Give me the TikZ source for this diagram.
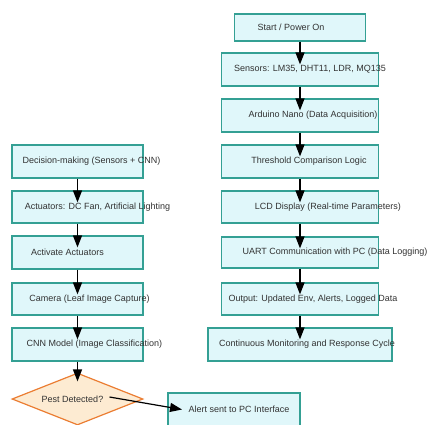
\documentclass[tikz,border=0pt]{standalone}
\usepackage{fontspec}
\setmainfont{Liberation Sans}
\usetikzlibrary{shapes.geometric,arrows.meta}

\definecolor{boxfill}{RGB}{224,247,250}
\definecolor{boxline}{RGB}{52,160,148}
\definecolor{decfill}{RGB}{253,235,210}
\definecolor{decline}{RGB}{235,125,50}
\definecolor{txt}{RGB}{50,50,50}

\tikzset{
  box/.style={draw=boxline, fill=boxfill, line width=1.2pt, inner sep=0pt,
    minimum width=131pt, minimum height=33pt},
  wide/.style={box, minimum width=157pt},
  decision/.style={diamond, draw=decline, fill=decfill, line width=1.2pt,
    inner sep=0pt, minimum width=131pt, minimum height=52pt},
  flow/.style={line width=1.2pt, -{Triangle[width=9pt,length=12pt]}, shorten >=-12pt}
}

\begin{document}
\begin{tikzpicture}[x=1pt, y=-1pt, font=\fontsize{9}{11}\selectfont, text=txt]
\useasboundingbox (0,0) rectangle (429,424);

% right column
\node[box, minimum height=27pt, label={[xshift=-9pt]center:Start / Power On}] (start) at (300,27.5) {};
\node[wide, label={[xshift=10pt]center:Sensors: LM35, DHT11, LDR, MQ135}] (sens) at (300,69.5) {};
\node[wide, label={[xshift=13pt]center:Arduino Nano (Data Acquisition)}] (nano) at (300,115.5) {};
\node[wide, label={[xshift=9pt]center:Threshold Comparison Logic}] (thr) at (300,161.5) {};
\node[wide, minimum height=32pt, label={[xshift=28pt]center:LCD Display (Real-time Parameters)}] (lcd) at (300,207) {};
\node[wide, minimum height=31pt, label={[xshift=35pt]center:UART Communication with PC (Data Logging)}] (uart) at (300,252.5) {};
\node[wide, minimum height=32pt, label={[xshift=13pt]center:Output: Updated Env, Alerts, Logged Data}] (out) at (300,299) {};
\node[box, minimum width=184pt, label={[xshift=7pt]center:Continuous Monitoring and Response Cycle}] (loop) at (300,344.5) {};

% left column
\node[box, label={[xshift=14pt]center:Decision-making (Sensors + CNN)}] (dec) at (77.5,161.5) {};
\node[box, minimum height=32pt, label={[xshift=20pt]center:Actuators: DC Fan, Artificial Lighting}] (act) at (77.5,207) {};
\node[box, label={[xshift=-10pt]center:Activate Actuators}] (on) at (77.5,252.5) {};
\node[box, minimum height=32pt, label={[xshift=12pt]center:Camera (Leaf Image Capture)}] (cam) at (77.5,299) {};
\node[box, label={[xshift=17pt]center:CNN Model (Image Classification)}] (cnn) at (77.5,344.5) {};
\node[decision, label={[xshift=-5pt]center:Pest Detected?}] (pest) at (77.5,399) {};
\node[box, minimum width=132pt, label={[xshift=5pt]center:Alert sent to PC Interface}] (alert) at (234,409.5) {};

\draw[flow] (start) -- (sens);
\draw[flow] (sens) -- (nano);
\draw[flow] (nano) -- (thr);
\draw[flow] (thr) -- (lcd);
\draw[flow] (lcd) -- (uart);
\draw[flow] (uart) -- (out);
\draw[flow] (out) -- (loop);

\draw[flow] (dec) -- (act);
\draw[flow] (act) -- (on);
\draw[flow] (on) -- (cam);
\draw[flow] (cam) -- (cnn);
\draw[flow, shorten >=-9pt] (cnn) -- (pest);
\draw[flow, shorten >=0pt] ([xshift=32pt,yshift=2pt]pest.center) -- ([xshift=-52pt]alert.center);
\end{tikzpicture}
\end{document}
